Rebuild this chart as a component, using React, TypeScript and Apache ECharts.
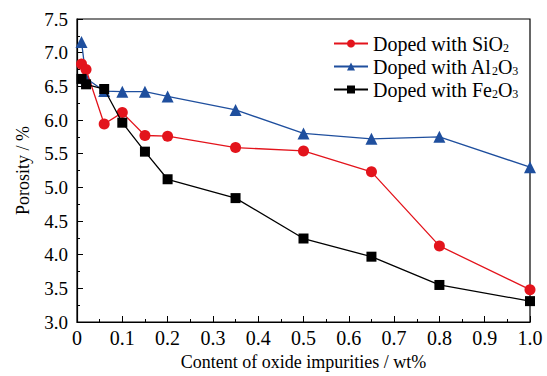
import React, { useEffect, useRef } from "react";
import * as echarts from "echarts";

const xSiO2 = [0.01, 0.02, 0.06, 0.1, 0.15, 0.2, 0.35, 0.5, 0.65, 0.8, 1.0];
const ySiO2 = [6.83, 6.75, 5.94, 6.11, 5.77, 5.76, 5.59, 5.54, 5.23, 4.13, 3.48];
const xAl2O3 = [0.01, 0.02, 0.06, 0.1, 0.15, 0.2, 0.35, 0.5, 0.65, 0.8, 1.0];
const yAl2O3 = [7.16, 6.62, 6.43, 6.42, 6.42, 6.35, 6.15, 5.8, 5.72, 5.75, 5.3];
const xFe2O3 = [0.01, 0.02, 0.06, 0.1, 0.15, 0.2, 0.35, 0.5, 0.65, 0.8, 1.0];
const yFe2O3 = [6.61, 6.53, 6.46, 5.96, 5.53, 5.12, 4.84, 4.24, 3.97, 3.55, 3.31];

const seriesNames = ["SiO2", "Al2O3", "Fe2O3"];
const legendLabels: Record<string, string> = {
  SiO2: "Doped with SiO{s|2}",
  Al2O3: "Doped with Al{s|2}O{s|3}",
  Fe2O3: "Doped with Fe{s|2}O{s|3}",
};

const FONT = "Times New Roman, Liberation Serif, DejaVu Serif, serif";

export default function App() {
  const ref = useRef<HTMLDivElement>(null);
  useEffect(() => {
    if (!ref.current) return;
    const chart = echarts.init(ref.current, null, { renderer: "svg" });
    const pair = (xs: number[], ys: number[]) => xs.map((x, i) => [x, ys[i]]);
    const axisCommon = {
      axisLine: { show: true, lineStyle: { color: "#000", width: 1.2 } },
      axisTick: { show: true, inside: true, length: 6, lineStyle: { color: "#000" } },
      minorTick: { show: true, splitNumber: 2, length: 3, lineStyle: { color: "#000" } },
      splitLine: { show: false },
      axisLabel: { color: "#000", fontFamily: FONT, fontSize: 19 },
      nameTextStyle: { color: "#000", fontFamily: FONT, fontSize: 18 },
    };
    chart.setOption({
      animation: false,
      backgroundColor: "#fff",
      textStyle: { fontFamily: FONT },
      grid: {
        left: 77,
        right: 17,
        top: 19,
        bottom: 54,
        outerBoundsMode: "none",
        containLabel: false,
        show: true,
        borderColor: "#000",
        borderWidth: 1.2,
      },
      legend: {
        data: seriesNames,
        orient: "vertical",
        left: 328,
        top: 28,
        itemWidth: 34,
        itemHeight: 10,
        itemGap: 2,
        formatter: (name: string) => legendLabels[name],
        textStyle: {
          color: "#000",
          fontFamily: FONT,
          fontSize: 20,
          lineHeight: 21,
          rich: {
            s: { fontFamily: FONT, fontSize: 12, color: "#000", verticalAlign: "bottom", lineHeight: 21, padding: [7, 0, 0, 0] },
          },
        },
      },
      xAxis: {
        ...axisCommon,
        type: "value",
        min: 0,
        max: 1,
        interval: 0.1,
        name: "Content of oxide impurities / wt%",
        nameLocation: "middle",
        nameGap: 28,
        axisLabel: {
          ...axisCommon.axisLabel,
          fontSize: 20,
          margin: 6,
          formatter: (v: number) => (v === 0 ? "0" : v.toFixed(1)),
        },
      },
      yAxis: {
        ...axisCommon,
        type: "value",
        min: 3,
        max: 7.5,
        interval: 0.5,
        name: "Porosity / %",
        nameLocation: "middle",
        nameGap: 45,
        axisLabel: {
          ...axisCommon.axisLabel,
          margin: 9,
          formatter: (v: number) => v.toFixed(1),
        },
      },
      series: [
        {
          name: "SiO2",
          type: "line",
          data: pair(xSiO2, ySiO2),
          symbol: "circle",
          symbolSize: 11,
          color: "#e3141c",
          lineStyle: { width: 1.3, color: "#e3141c" },
          itemStyle: { color: "#e3141c" },
          z: 3,
        },
        {
          name: "Al2O3",
          type: "line",
          data: pair(xAl2O3, yAl2O3),
          symbol: "triangle",
          symbolSize: 12,
          color: "#1f4f9e",
          lineStyle: { width: 1.3, color: "#1f4f9e" },
          itemStyle: { color: "#1f4f9e" },
          z: 2,
        },
        {
          name: "Fe2O3",
          type: "line",
          data: pair(xFe2O3, yFe2O3),
          symbol: "rect",
          symbolSize: 10,
          color: "#000",
          lineStyle: { width: 1.3, color: "#000" },
          itemStyle: { color: "#000" },
          z: 4,
        },
      ],
    });
    return () => chart.dispose();
  }, []);
  return <div ref={ref} style={{ width: 547, height: 376, position: "absolute", left: 0, top: 0 }} />;
}
